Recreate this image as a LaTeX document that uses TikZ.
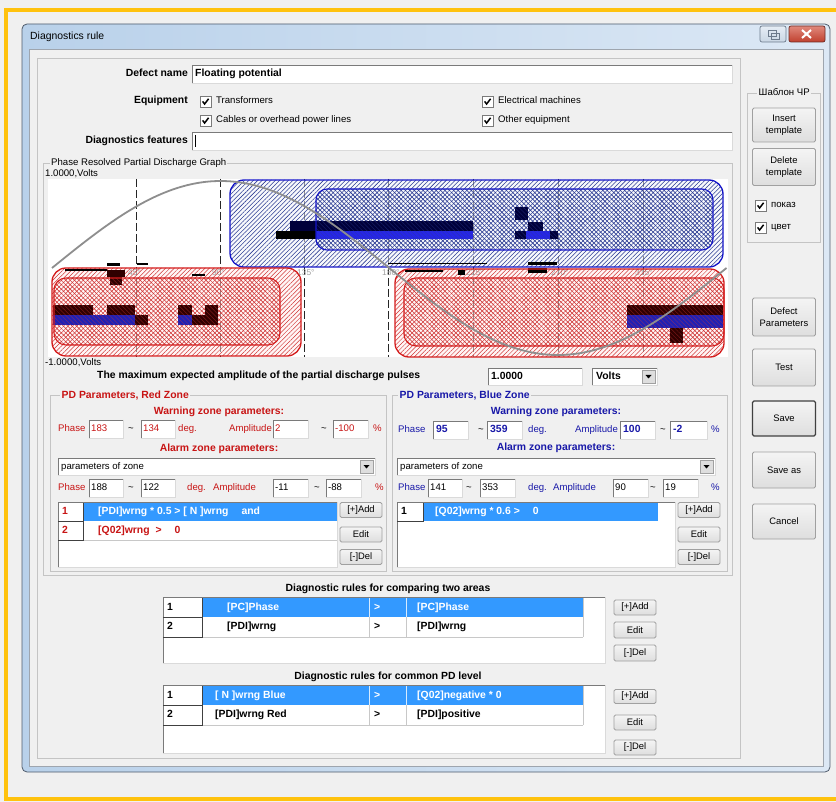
\documentclass[tikz,border=0pt]{standalone}
\usepackage{fontspec}
\setmainfont{Liberation Sans}
\usetikzlibrary{patterns.meta}
\definecolor{bg}{HTML}{F0F0F0}
\definecolor{ylw}{HTML}{FFC20E}
\definecolor{winA}{HTML}{B9D1EA}
\definecolor{winB}{HTML}{DCE8F5}
\definecolor{winbd}{HTML}{4F5B6B}
\definecolor{grpc}{HTML}{C4C4C4}
\definecolor{sel}{HTML}{3399FF}
\definecolor{rtxt}{HTML}{C81414}
\definecolor{bltxt}{HTML}{1818A8}
\definecolor{zblue}{HTML}{1414C8}
\definecolor{zred}{HTML}{D41C1C}
\definecolor{hblue}{HTML}{2C3C94}
\definecolor{hred}{HTML}{D03636}
\definecolor{dkred}{HTML}{300000}
\definecolor{dkblue}{HTML}{00003A}
\definecolor{pblue}{HTML}{2626E6}
\definecolor{pblue2}{HTML}{2020B4}
\definecolor{crv}{HTML}{8E8E8E}
\definecolor{edk}{HTML}{7A7A7A}
\definecolor{elt}{HTML}{DADADA}
\definecolor{btnbd}{HTML}{A0A0A0}
\definecolor{btop}{HTML}{F4F4F4}
\definecolor{bbot}{HTML}{DEDEDE}
\definecolor{gridc}{HTML}{C8C8C8}
\definecolor{axl}{HTML}{A0A0A0}
\definecolor{rbtA}{HTML}{E6EDF5}
\definecolor{rbtB}{HTML}{C9D6E4}
\definecolor{rbtD}{HTML}{6D7B8C}
\definecolor{clA}{HTML}{E0897C}
\definecolor{clB}{HTML}{C0402E}
\definecolor{clD}{HTML}{6E2A22}
\definecolor{zbfill}{HTML}{F3F4FA}
\definecolor{zrfill}{HTML}{FFEFEF}

\newcommand\fnr{\fontsize{9.6}{11}\selectfont}
\newcommand\fnb{\fontsize{10.4}{12}\selectfont\bfseries}
\newcommand\fns{\fontsize{8.4}{10}\selectfont}
\newcommand\fnbt{\fontsize{9.4}{12.5}\selectfont}

\newcommand\myebox[4]{%
  \fill[white] (#1,#2) rectangle (#3,#4);
  \draw[edk,line width=0.8pt] (#1,#4) -- (#1,#2) -- (#3,#2);
  \draw[elt,line width=0.8pt] (#3,#2) -- (#3,#4) -- (#1,#4);}
\newcommand\mychk[2]{%
  \fill[white] (#1,#2) rectangle (#1+11,#2+11);
  \draw[edk,line width=0.8pt] (#1,#2) rectangle (#1+11,#2+11);
  \draw[line width=1.5pt] (#1+2.6,#2+5.4) -- (#1+4.6,#2+8) -- (#1+8.6,#2+2.8);}
\newcommand\mycombo[4]{%
  \myebox{#1}{#2}{#3}{#4}
  \fill[bbot] (#3-15,#2+2) rectangle (#3-2,#4-2);
  \draw[btnbd,line width=0.6pt] (#3-15,#2+2) rectangle (#3-2,#4-2);
  \fill (#3-11.5,#2+7) -- (#3-5.5,#2+7) -- (#3-8.5,#2+10.5) -- cycle;}

\tikzset{
  lab/.style={inner sep=0pt, anchor=west, font=\fnr, text height=7pt, text depth=2pt},
  labb/.style={inner sep=0pt, anchor=west, font=\fnb, text height=7.5pt, text depth=2pt},
  axlab/.style={inner sep=0pt, anchor=west, font=\fns, text=axl},
  btn/.style={draw=btnbd, top color=btop, bottom color=bbot, rounded corners=1.5pt,
              inner sep=0pt, align=center, font=\fnbt, line width=0.8pt},
  grpline/.style={draw=grpc, line width=0.8pt},
  tline/.style={draw=gridc, line width=0.7pt},
  numline/.style={draw=black!75, line width=0.8pt},
  hatchB/.style={pattern={Lines[angle=45,distance=3.1pt,line width=0.55pt]}, pattern color=hblue},
  hatchBx/.style={pattern={Lines[angle=-45,distance=3.1pt,line width=0.55pt]}, pattern color=hblue},
  hatchR/.style={pattern={Lines[angle=45,distance=3.1pt,line width=0.5pt]}, pattern color=hred},
  hatchRx/.style={pattern={Lines[angle=-45,distance=3.1pt,line width=0.5pt]}, pattern color=hred}
}

\begin{document}
\begin{tikzpicture}[x=1pt,y=-1pt]
\useasboundingbox (0,0) rectangle (836,802);
\fill[bg] (0,0) rectangle (836,802);
% yellow frame
\draw[ylw, line width=4.5pt] (836,10) -- (6,10) -- (6,799) -- (836,799);

% window
\shade[left color=winA, right color=winB, draw=winbd, rounded corners=5pt, line width=0.8pt] (22,24) rectangle (830,772);
\fill[bg] (29,49) rectangle (823,766);
\draw[winbd!55, line width=0.7pt] (29,49) rectangle (823,766);
\node[lab, font=\fontsize{10.4}{12}\selectfont] (title) at (30,37) {Diagnostics rule};
% title buttons
\shade[top color=rbtA, bottom color=rbtB, draw=rbtD, rounded corners=2pt, line width=0.7pt] (760,26) rectangle (786,42);
\draw[rbtD, line width=0.8pt] (768,30) rectangle (776,36);
\draw[rbtD, line width=0.8pt] (771,33) rectangle (779,39);
\shade[top color=clA, bottom color=clB, draw=clD, rounded corners=2pt, line width=0.7pt] (789,26) rectangle (825,42);
\draw[white, line width=2pt] (802,30) -- (811,38) (811,30) -- (802,38);

% main group
\draw[grpline] (37,58) rectangle (740,758);

% defect name
\node[labb, anchor=east] (lbdn) at (188,74) {Defect name};
\myebox{192}{65}{732}{83}
\node[labb] (vdn) at (195,74) {Floating potential};

% equipment
\node[labb, anchor=east] (lbeq) at (188,101) {Equipment};
\mychk{200}{96}
\node[lab] (ceq1) at (216,101) {Transformers};
\mychk{200}{115}
\node[lab] (ceq2) at (216,120) {Cables or overhead power lines};
\mychk{482}{96}
\node[lab] (ceq3) at (498,101) {Electrical machines};
\mychk{482}{115}
\node[lab] (ceq4) at (498,120) {Other equipment};

% diagnostics features
\node[labb, anchor=east] (lbdf) at (188,141) {Diagnostics features};
\myebox{192}{132}{732}{150}
\draw[line width=0.9pt] (195,135) -- (195,147);

% graph group
\draw[grpline] (43,163) rectangle (732,575);
\node[lab, fill=bg, inner xsep=1pt] (gtitle) at (50,163) {Phase Resolved Partial Discharge Graph};
\node[lab] (vmax) at (45,174) {1.0000,Volts};
\fill[white] (48,179) rectangle (728,357);

% dashed phase lines
\foreach \xx in {136,220,304,388,473,558,643}
  \draw[black!85, line width=0.8pt, dash pattern=on 8pt off 3pt] (\xx,179) -- (\xx,357);

% zone fills
\fill[zbfill, fill opacity=0.5, rounded corners=14pt] (230,180) rectangle (723,267);
\fill[zrfill, fill opacity=0.5, rounded corners=14pt] (52,268) rectangle (301,356);
\fill[zrfill, fill opacity=0.5, rounded corners=14pt] (395,269) rectangle (724,357);

% axis labels
\node[axlab] (a45) at (128,273) {45°};
\node[axlab] (a90) at (212,273) {90°};
\node[axlab] (a135) at (297,273) {135°};
\node[axlab] (a180) at (382,273) {180°};
\node[axlab] (a225) at (466,273) {225°};
\node[axlab] (a270) at (551,273) {270°};
\node[axlab] (a315) at (635,273) {315°};

% blue zone
\path[hatchB, rounded corners=14pt] (230,180) rectangle (723,267);
\path[hatchBx, rounded corners=11pt] (316,189) rectangle (713,250);

% red zones
\path[hatchR, rounded corners=14pt] (52,268) rectangle (301,356);
\path[hatchRx, rounded corners=12pt] (54,278) rectangle (280,345);
\path[hatchR, rounded corners=14pt] (395,269) rectangle (724,357);
\path[hatchRx, rounded corners=12pt] (404,278) rectangle (724,346);

% pulses in blue zone
\fill[dkblue] (290,221) rectangle (473,231);
\fill[black] (276,231) rectangle (316,239);
\fill[pblue] (316,231) rectangle (473,239);
\fill[dkblue] (515,207) rectangle (528,220);
\fill[dkblue] (528,222) rectangle (543,231);
\fill[dkblue] (515,231) rectangle (558,239);
\fill[pblue] (526,231) rectangle (550,239);

% pulses in red zones
\fill[dkred] (53,305) rectangle (93,315);
\fill[dkred] (107,305) rectangle (135,315);
\fill[pblue2] (53,315) rectangle (135,325);
\fill[dkred] (135,315) rectangle (148,325);
\fill[dkred] (178,305) rectangle (192,315);
\fill[dkred] (205,305) rectangle (218,315);
\fill[pblue2] (178,315) rectangle (192,325);
\fill[dkred] (192,315) rectangle (218,325);
\fill[dkred] (627,305) rectangle (723,315);
\fill[pblue2] (627,315) rectangle (723,328);
\fill[dkred] (670,328) rectangle (683,343);

% small marks near axis
\fill (65,269) rectangle (107,271);
\fill (107,263) rectangle (120,266);
\fill[dkred] (107,270) rectangle (125,277);
\fill[dkred] (110,277) rectangle (122,285);
\fill (137,263) rectangle (148,265);
\fill (192,274) rectangle (205,276);
\fill (388,263) rectangle (487,264.5);
\fill (405,270) rectangle (443,272.5);
\fill (458,270) rectangle (465,275);
\fill (528,262) rectangle (557,265);
\fill (528,268) rectangle (547,273);

% hatch over the pulses
\begin{scope}[opacity=0.45]
\path[hatchBx, rounded corners=11pt] (316,189) rectangle (713,250);
\path[hatchRx, rounded corners=12pt] (54,278) rectangle (280,345);
\path[hatchRx, rounded corners=12pt] (404,278) rectangle (724,346);
\end{scope}

% zone borders
\draw[zblue, line width=1.3pt, rounded corners=14pt] (230,180) rectangle (723,267);
\draw[zblue, line width=1.1pt, rounded corners=11pt] (316,189) rectangle (713,250);
\draw[zred, line width=1.3pt, rounded corners=14pt] (52,268) rectangle (301,356);
\draw[zred, line width=1.1pt, rounded corners=12pt] (54,278) rectangle (280,345);
\draw[zred, line width=1.3pt, rounded corners=14pt] (395,269) rectangle (724,357);
\draw[zred, line width=1.1pt, rounded corners=12pt] (404,278) rectangle (724,346);

% sine
\draw[crv, line width=1.8pt] plot[domain=0:360, samples=91, smooth] ({52+\x*1.8736},{268-87*sin(\x)});

\node[lab] (vmin) at (45,363) {-1.0000,Volts};

% amplitude row
\node[labb] (lbmax) at (97,376) {The maximum expected amplitude of the partial discharge pulses};
\myebox{488}{368}{582}{385}
\node[labb] (vamp) at (491,376.5) {1.0000};
\mycombo{592}{368}{657}{385}
\node[labb] (vunit) at (596,376.5) {Volts};

% ===== red group =====
\draw[grpline] (50,395) rectangle (386,571);
\node[labb, text=rtxt, fill=bg, inner xsep=1.5pt] (rgt) at (60,396) {PD Parameters, Red Zone};
\node[labb, text=rtxt, anchor=center] (rwz) at (219,412) {Warning zone parameters:};
\node[lab, text=rtxt] (rph1) at (58,429) {Phase};
\myebox{89}{420}{123}{438}
\node[lab, text=rtxt] (rv1) at (91,429) {183};
\node[lab] (rt1) at (128,429) {\textasciitilde};
\myebox{141}{420}{175}{438}
\node[lab, text=rtxt] (rv2) at (143,429) {134};
\node[lab, text=rtxt] (rdeg1) at (178,429) {deg.};
\node[lab, text=rtxt] (ramp1) at (229,429) {Amplitude};
\myebox{273}{420}{308}{438}
\node[lab, text=rtxt] (rv3) at (275,429) {2};
\node[lab] (rt2) at (321,429) {\textasciitilde};
\myebox{333}{420}{368}{438}
\node[lab, text=rtxt] (rv4) at (335,429) {-100};
\node[lab, text=rtxt] (rpc1) at (373,429) {\%};
\node[labb, text=rtxt, anchor=center] (raz) at (219,449) {Alarm zone parameters:};
\mycombo{58}{458}{375}{475}
\node[lab] (rcb) at (61,466.5) {parameters of zone};
\node[lab, text=rtxt] (rph2) at (58,488) {Phase};
\myebox{89}{479}{123}{497}
\node[lab] (rv5) at (91,488) {188};
\node[lab] (rt3) at (128,488) {\textasciitilde};
\myebox{141}{479}{175}{497}
\node[lab] (rv6) at (143,488) {122};
\node[lab, text=rtxt] (rdeg2) at (187,488) {deg.};
\node[lab, text=rtxt] (ramp2) at (213,488) {Amplitude};
\myebox{273}{479}{308}{497}
\node[lab] (rv7) at (275,488) {-11};
\node[lab] (rt4) at (314,488) {\textasciitilde};
\myebox{326}{479}{361}{497}
\node[lab] (rv8) at (328,488) {-88};
\node[lab, text=rtxt] (rpc2) at (375,488) {\%};
% red table
\myebox{58}{502}{337}{567}
\fill[sel] (83,503) rectangle (337,521);
\draw[tline] (83,540) -- (337,540);
\draw[numline] (83,503) -- (83,521) -- (58,521);
\draw[numline] (83,521) -- (83,540) -- (58,540);
\node[labb, text=rtxt] (rn1) at (62,512) {1};
\node[labb, text=white] (rr1) at (98,512) {[PDI]wrng * 0.5 > [ N ]wrng\hspace{13pt}and};
\node[labb, text=rtxt] (rn2) at (62,530.5) {2};
\node[labb, text=rtxt] (rr2) at (98,530.5) {[Q02]wrng\hspace{6pt}>\hspace{13pt}0};
\node[btn, minimum width=42pt, minimum height=15pt] (radd) at (361,510) {[+]Add};
\node[btn, minimum width=42pt, minimum height=15pt] (redit) at (361,534.5) {Edit};
\node[btn, minimum width=42pt, minimum height=15pt] (rdel) at (361,557) {[-]Del};

% ===== blue group =====
\draw[grpline] (392,395) rectangle (727,571);
\node[labb, text=bltxt, fill=bg, inner xsep=1.5pt] (bgt) at (398,396) {PD Parameters, Blue Zone};
\node[labb, text=bltxt, anchor=center] (bwz) at (556,412) {Warning zone parameters:};
\node[lab, text=bltxt] (bph1) at (398,430) {Phase};
\myebox{433}{421}{468}{439}
\node[labb, text=bltxt] (bv1) at (436,430) {95};
\node[lab] (bt1) at (478,430) {\textasciitilde};
\myebox{487}{421}{522}{439}
\node[labb, text=bltxt] (bv2) at (490,430) {359};
\node[lab, text=bltxt] (bdeg1) at (528,430) {deg.};
\node[lab, text=bltxt] (bamp1) at (575,430) {Amplitude};
\myebox{620}{421}{655}{439}
\node[labb, text=bltxt] (bv3) at (623,430) {100};
\node[lab] (bt2) at (660,430) {\textasciitilde};
\myebox{670}{421}{707}{439}
\node[labb, text=bltxt] (bv4) at (673,430) {-2};
\node[lab, text=bltxt] (bpc1) at (711,430) {\%};
\node[labb, text=bltxt, anchor=center] (baz) at (556,448) {Alarm zone parameters:};
\mycombo{397}{458}{715}{475}
\node[lab] (bcb) at (400,466.5) {parameters of zone};
\node[lab, text=bltxt] (bph2) at (398,488) {Phase};
\myebox{428}{479}{462}{497}
\node[lab] (bv5) at (430,488) {141};
\node[lab] (bt3) at (466,488) {\textasciitilde};
\myebox{480}{479}{515}{497}
\node[lab] (bv6) at (482,488) {353};
\node[lab, text=bltxt] (bdeg2) at (528,488) {deg.};
\node[lab, text=bltxt] (bamp2) at (553,488) {Amplitude};
\myebox{613}{479}{648}{497}
\node[lab] (bv7) at (615,488) {90};
\node[lab] (bt4) at (650,488) {\textasciitilde};
\myebox{663}{479}{698}{497}
\node[lab] (bv8) at (665,488) {19};
\node[lab, text=bltxt] (bpc2) at (711,488) {\%};
% blue table
\myebox{397}{502}{675}{567}
\fill[sel] (423,503) rectangle (658,521);
\draw[numline] (423,503) -- (423,521) -- (397,521);
\node[labb] (bn1) at (401,512) {1};
\node[labb, text=white] (br1) at (435,512) {[Q02]wrng * 0.6 >\hspace{13pt}0};
\node[btn, minimum width=42pt, minimum height=15pt] (badd) at (699,510) {[+]Add};
\node[btn, minimum width=42pt, minimum height=15pt] (bedit) at (699,534.5) {Edit};
\node[btn, minimum width=42pt, minimum height=15pt] (bdel) at (699,557) {[-]Del};

% ===== comparing two areas =====
\node[labb, anchor=center] (dt1) at (388,589) {Diagnostic rules for comparing two areas};
\myebox{163}{597}{605}{663}
\fill[sel] (202,598) rectangle (583,617);
\draw[tline] (202,637) -- (583,637) (583,598) -- (583,637) (369,617) -- (369,637) (406,617) -- (406,637);
\draw[white!80!sel, line width=0.7pt] (369,598) -- (369,617) (406,598) -- (406,617);
\draw[numline] (202,598) -- (202,617) -- (163,617);
\draw[numline] (202,617) -- (202,637) -- (163,637);
\node[labb] (a1n) at (167,607.5) {1};
\node[labb, text=white] (a1a) at (227,607.5) {[PC]Phase};
\node[labb, text=white] (a1o) at (374,607.5) {>};
\node[labb, text=white] (a1b) at (417,607.5) {[PC]Phase};
\node[labb] (a2n) at (167,627) {2};
\node[labb] (a2a) at (227,627) {[PDI]wrng};
\node[labb] (a2o) at (374,627) {>};
\node[labb] (a2b) at (417,627) {[PDI]wrng};
\node[btn, minimum width=42pt, minimum height=15pt] (cadd) at (635,607.5) {[+]Add};
\node[btn, minimum width=42pt, minimum height=16pt] (cedit) at (635,630) {Edit};
\node[btn, minimum width=42pt, minimum height=16pt] (cdel) at (635,653) {[-]Del};

% ===== common PD level =====
\node[labb, anchor=center] (dt2) at (388,677) {Diagnostic rules for common PD level};
\myebox{163}{685}{605}{753}
\fill[sel] (202,686) rectangle (583,705);
\draw[tline] (202,725) -- (583,725) (583,686) -- (583,725) (369,705) -- (369,725) (406,705) -- (406,725);
\draw[white!80!sel, line width=0.7pt] (369,686) -- (369,705) (406,686) -- (406,705);
\draw[numline] (202,686) -- (202,705) -- (163,705);
\draw[numline] (202,705) -- (202,725) -- (163,725);
\node[labb] (p1n) at (167,695.5) {1};
\node[labb, text=white] (p1a) at (215,695.5) {[ N ]wrng Blue};
\node[labb, text=white] (p1o) at (374,695.5) {>};
\node[labb, text=white] (p1b) at (417,695.5) {[Q02]negative * 0};
\node[labb] (p2n) at (167,715) {2};
\node[labb] (p2a) at (215,715) {[PDI]wrng Red};
\node[labb] (p2o) at (374,715) {>};
\node[labb] (p2b) at (417,715) {[PDI]positive};
\node[btn, minimum width=42pt, minimum height=14pt] (ladd) at (635,696.5) {[+]Add};
\node[btn, minimum width=42pt, minimum height=15pt] (ledit) at (635,722.5) {Edit};
\node[btn, minimum width=42pt, minimum height=15pt] (ldel) at (635,747.5) {[-]Del};

% ===== right panel =====
\draw[grpline] (747,93) rectangle (820,242);
\node[lab, fill=bg, inner xsep=1.5pt] (tpl) at (757,93) {Шаблон ЧР};
\node[btn, minimum width=63pt, minimum height=34pt] (bins) at (784,125) {Insert\\template};
\node[btn, minimum width=63pt, minimum height=37pt] (bdelt) at (784,167) {Delete\\template};
\mychk{755}{200}
\node[lab] (cpk) at (771,205.5) {показ};
\mychk{755}{222}
\node[lab] (ccv) at (771,227.5) {цвет};
\node[btn, minimum width=63pt, minimum height=38pt] (bdp) at (784,317) {Defect\\Parameters};
\node[btn, minimum width=63pt, minimum height=37pt] (btest) at (784,367.5) {Test};
\node[btn, draw=black!75, line width=1.1pt, minimum width=63pt, minimum height=35pt] (bsave) at (784,418.5) {Save};
\node[btn, minimum width=63pt, minimum height=36pt] (bsaveas) at (784,470) {Save as};
\node[btn, minimum width=63pt, minimum height=35pt] (bcancel) at (784,521.5) {Cancel};
\end{tikzpicture}
\end{document}
